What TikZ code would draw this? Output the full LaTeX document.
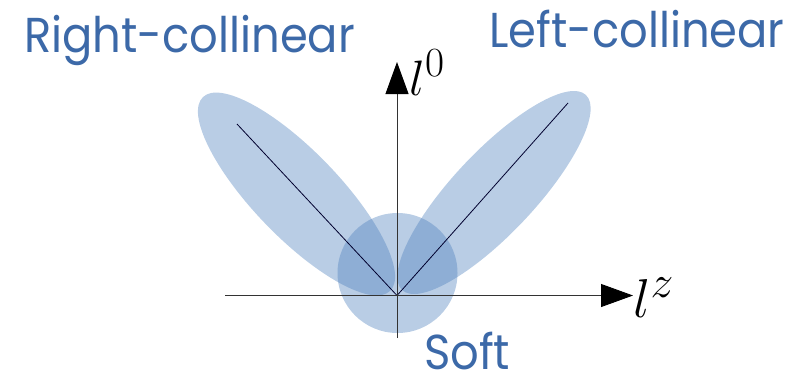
\documentclass[tikz,border=0pt]{standalone}
\usepackage{fontspec}
\setmainfont{Poppins}
\usetikzlibrary{arrows.meta}
\definecolor{txtblue}{RGB}{60,105,168}
\definecolor{lobe}{RGB}{79,129,189}
\tikzset{
  lobefill/.style={fill=lobe, fill opacity=0.4, draw=none},
  axisline/.style={draw=black!80, line width=0.9pt, -{Triangle[length=32pt,width=23pt,color=black]}},
  diag/.style={draw=black!70!blue!60!black, line width=0.8pt},
  region/.style={text=txtblue, font=\fontsize{49}{58}\selectfont, inner sep=0pt, anchor=base west, xscale=0.915},
  axlabel/.style={inner sep=0pt, anchor=base west, font=\Huge}
}
\begin{document}
\begin{tikzpicture}[x=1pt,y=-1pt]
\useasboundingbox (0,0) rectangle (802,376);
% lobes
\fill[lobefill, rotate around={134:(296.5,194)}] (296.5,194) ellipse [x radius=134.7pt, y radius=43pt];
\fill[lobefill, rotate around={46.7:(494,192.5)}] (494,192.5) ellipse [x radius=134pt, y radius=41pt];
\fill[lobefill] (397.5,273) circle [radius=60pt];
% coordinates
\coordinate (O) at (397,295.5);
\coordinate (xl) at (225,295.5);
\coordinate (xr) at (633,295.5);
\coordinate (yb) at (397,338);
\coordinate (yt) at (397,62);
\coordinate (rc) at (237,124);
\coordinate (lc) at (568,103);
% diagonals
\draw[diag] (O) -- (rc);
\draw[diag] (O) -- (lc);
% axes
\draw[axisline] (xl) -- (xr);
\draw[axisline] (yb) -- (yt);
% labels
\node[axlabel, scale=2.0] (l0) at (409,95) {$l^0$};
\node[axlabel, scale=2.2] (lz) at (633,317) {$l^z$};
\node[region] (right) at (24,52) {Right-collinear};
\node[region] (left) at (489,47) {Left-collinear};
\node[region] (soft) at (424,369) {Soft};
\end{tikzpicture}
\end{document}
